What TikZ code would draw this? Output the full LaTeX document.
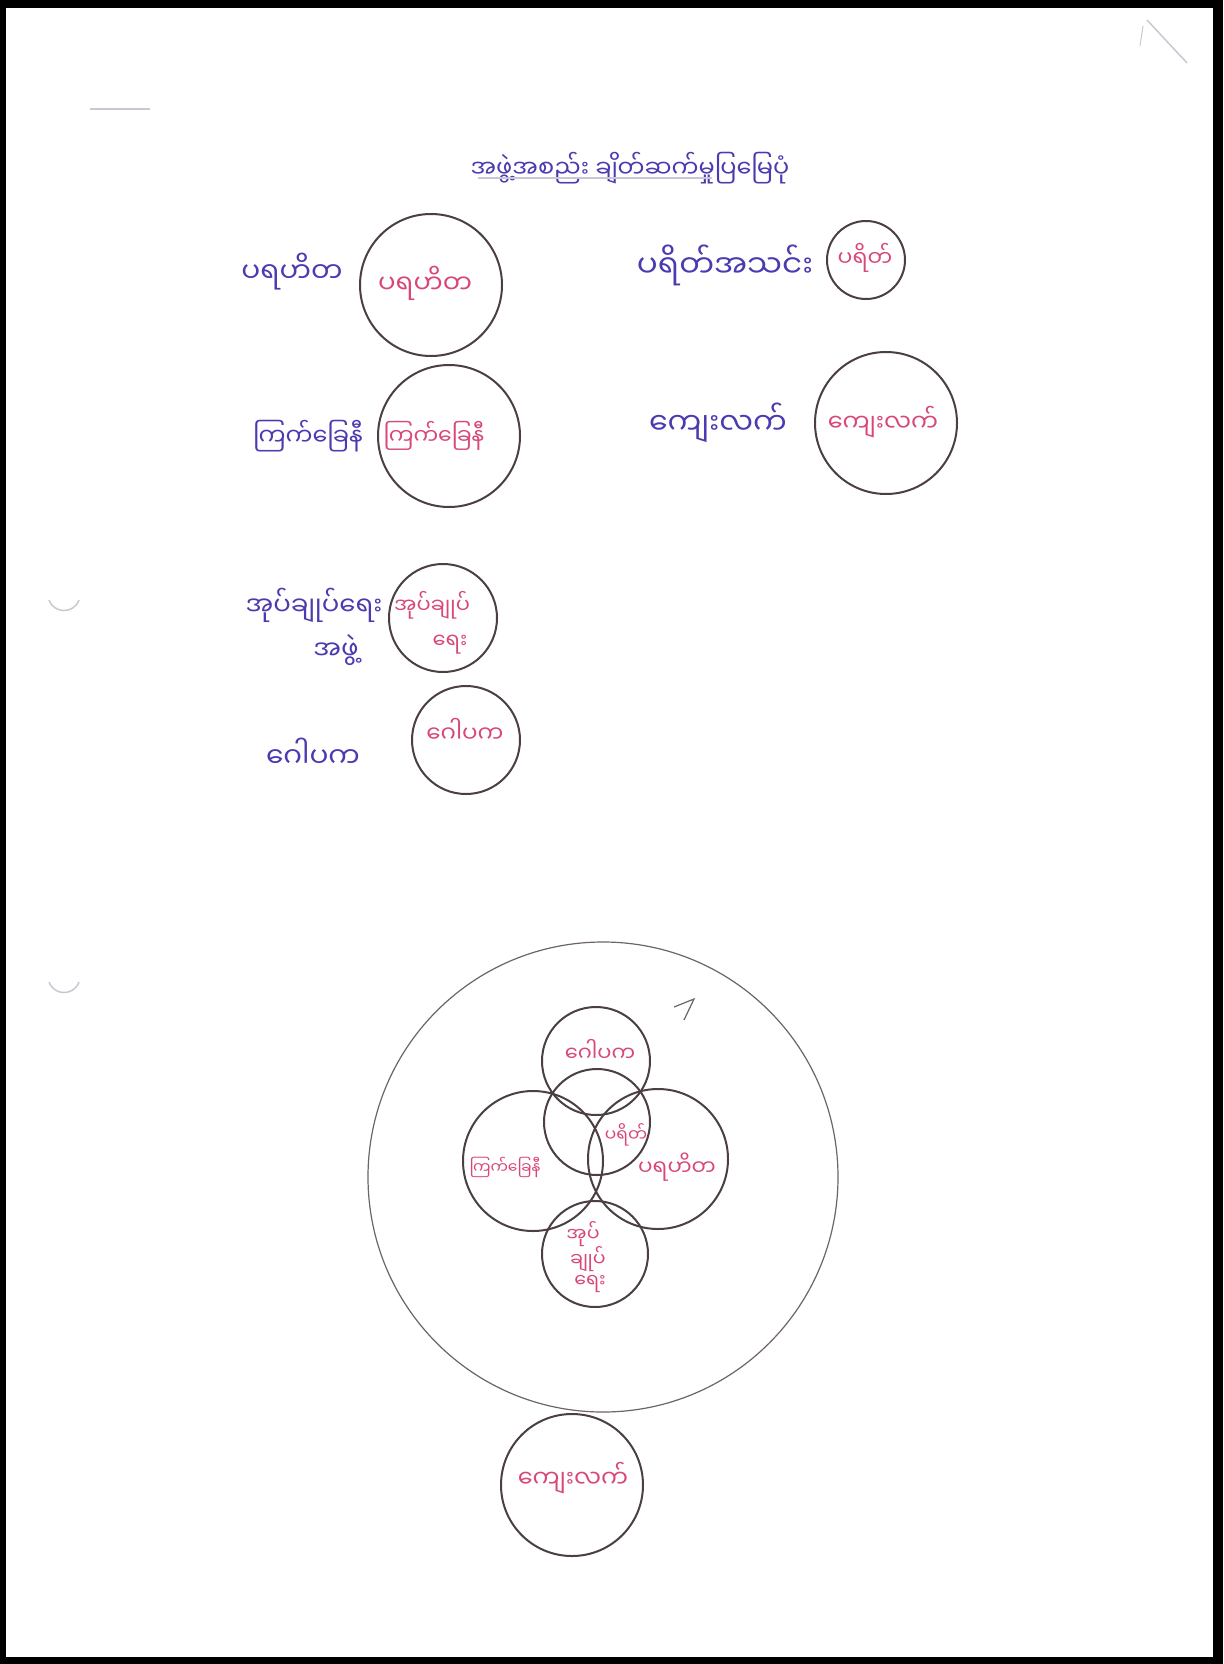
\documentclass[tikz,border=0pt]{standalone}
\usepackage{fontspec}
\newfontfamily\mm[Script=Myanmar]{Noto Sans Myanmar UI}
\usetikzlibrary{shapes.geometric}
\definecolor{pen}{HTML}{4B3F45}
\definecolor{penlight}{HTML}{6E6468}
\definecolor{bluink}{HTML}{4B3BB0}
\definecolor{redink}{HTML}{D9477A}
\definecolor{faint}{HTML}{C8C8D4}
\newcommand{\fs}[1]{\mm\fontsize{#1}{#1}\selectfont}
\tikzset{
 org/.style={circle,draw=pen,line width=2pt,inner sep=0pt,minimum size=#1},
 lbl/.style={text=bluink,font=\fs{28},inner sep=0pt,align=center},
 inlbl/.style={text=redink,font=\fs{24},inner sep=0pt,align=center},
 vlbl/.style={text=redink,font=\fs{20},inner sep=0pt,align=center},
}
\begin{document}
\begin{tikzpicture}[x=1pt,y=-1pt]
\useasboundingbox (0,0) rectangle (1223,1664);
% frame
\fill[black] (0,0) rectangle (1223,1664);
\fill[white] (6,8) rectangle (1213,1657);
% faint marks
\draw[faint,line width=1.5pt] (1147,20) -- (1187,63);
\draw[faint,line width=1pt] (1143,26) -- (1140,46);
\draw[faint,line width=1.5pt] (90,109) -- (150,109);
\draw[faint,line width=1.5pt] (49,600) arc[start angle=160,end angle=20,radius=16];
\draw[faint,line width=1.5pt] (49,982) arc[start angle=160,end angle=20,radius=16];
% subtitle
\node[lbl,font=\fs{24}] (title) at (630,168) {အဖွဲ့အစည်း ချိတ်ဆက်မှုပြမြေပုံ};
\draw[faint,line width=1.2pt] (478,178) -- (712,178);

% legend circles
\node[org=142] (cPara) at (431,285) {};
\node[inlbl,font=\fs{26}] (tPara) at (425,283) {ပရဟိတ};
\node[lbl] (lPara) at (292,272) {ပရဟိတ};

\node[org=78] (cParit) at (866,260) {};
\node[inlbl,font=\fs{22}] (tParit) at (865,258) {ပရိတ်};
\node[lbl,font=\fs{31}] (lParit) at (725,265) {ပရိတ်အသင်း};

\node[org=142] (cRed) at (449,436) {};
\node[inlbl,font=\fs{22}] (tRed) at (434,436) {ကြက်ခြေနီ};
\node[lbl,font=\fs{24}] (lRed) at (308,436) {ကြက်ခြေနီ};

\node[org=142] (cRural) at (886,423) {};
\node[inlbl] (tRural) at (883,422) {ကျေးလက်};
\node[lbl,font=\fs{30}] (lRural) at (718,423) {ကျေးလက်};

\node[org=108] (cAdmin) at (443,618) {};
\node[inlbl,font=\fs{21}] (tAdmin1) at (432,605) {အုပ်ချုပ်};
\node[inlbl,font=\fs{21}] (tAdmin2) at (450,645) {ရေး};
\node[lbl,font=\fs{26}] (lAdmin1) at (314,605) {အုပ်ချုပ်ရေး};
\node[lbl,font=\fs{26}] (lAdmin2) at (336,650) {အဖွဲ့};

\node[org=108] (cGopa) at (466,740) {};
\node[inlbl,font=\fs{23}] (tGopa) at (465,730) {ဂေါပက};
\node[lbl] (lGopa) at (313,753) {ဂေါပက};

% Venn diagram
\node[circle,draw=penlight,line width=1.2pt,minimum size=470,inner sep=0pt] (outer) at (603,1177) {};
\node[org=108] (vGopa) at (596,1061) {};
\node[org=106] (vParit) at (597,1122) {};
\node[org=140] (vRed) at (533,1161) {};
\node[org=140] (vPara) at (658,1159) {};
\node[org=106] (vAdmin) at (595,1254) {};
\node[vlbl,font=\fs{21}] (wGopa) at (600,1050) {ဂေါပက};
\node[vlbl,font=\fs{17}] (wParit) at (626,1135) {ပရိတ်};
\node[vlbl,font=\fs{15.5}] (wRed) at (505,1167) {ကြက်ခြေနီ};
\node[vlbl,font=\fs{21.5}] (wPara) at (677,1167) {ပရဟိတ};
\node[vlbl,font=\fs{19}] (wAdmin1) at (583,1234) {အုပ်};
\node[vlbl,font=\fs{19}] (wAdmin2) at (588,1259) {ချုပ်};
\node[vlbl,font=\fs{19}] (wAdmin3) at (590,1284) {ရေး};
\coordinate (tk1) at (674,1007);
\coordinate (tk2) at (694,999);
\coordinate (tk3) at (684,1020);
\draw[penlight,line width=1.2pt] (tk1) -- (tk2) -- (tk3);

\node[org=142] (vRural) at (572,1485) {};
\node[inlbl] (wRural) at (573,1478) {ကျေးလက်};
\end{tikzpicture}
\end{document}
